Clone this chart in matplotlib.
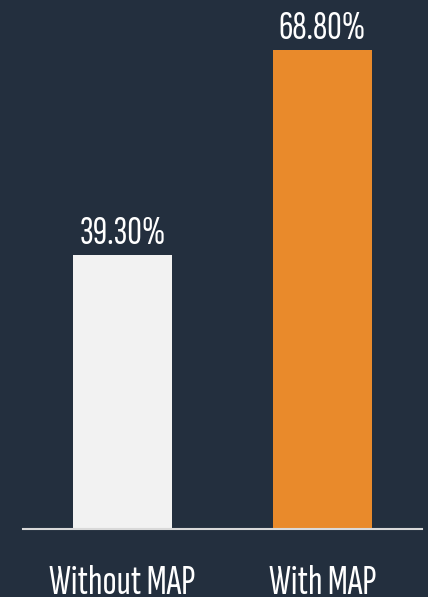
import matplotlib.pyplot as plt

categories = ['Without MAP', 'With MAP']
values = [39.3, 68.8]
value_labels = ['39.30%', '68.80%']
colors = ['#f2f2f2', '#e98a2b']

bg = '#232f3e'
font = ['Sofia Sans Extra Condensed', 'DejaVu Sans']

fig = plt.figure(figsize=(4.28, 5.97), dpi=100, facecolor=bg)
ax = fig.add_axes([23 / 428, (597 - 529) / 597, 399 / 428, 529 / 597])
ax.set_facecolor(bg)

x = range(len(categories))
bars = ax.bar(x, values, width=0.495, color=colors, zorder=2)

for b, lab in zip(bars, value_labels):
    ax.annotate(lab, (b.get_x() + b.get_width() / 2, b.get_height()),
                xytext=(0, 8), textcoords='offset points',
                ha='center', va='baseline', color='white',
                fontsize=29, family=font)

ax.set_xlim(-0.4975, 1.4975)
ax.set_ylim(0, 76)
ax.set_xticks(list(x))
ax.set_xticklabels(categories, fontsize=30, color='white', family=font, va='baseline')
ax.tick_params(axis='x', length=0, pad=47)
ax.set_yticks([])
for s in ['top', 'right', 'left']:
    ax.spines[s].set_visible(False)
ax.spines['bottom'].set_color('#d9d9d9')
ax.spines['bottom'].set_linewidth(1.5)
ax.spines['bottom'].set_zorder(3)

plt.savefig('out.png', dpi=100, facecolor=bg)
